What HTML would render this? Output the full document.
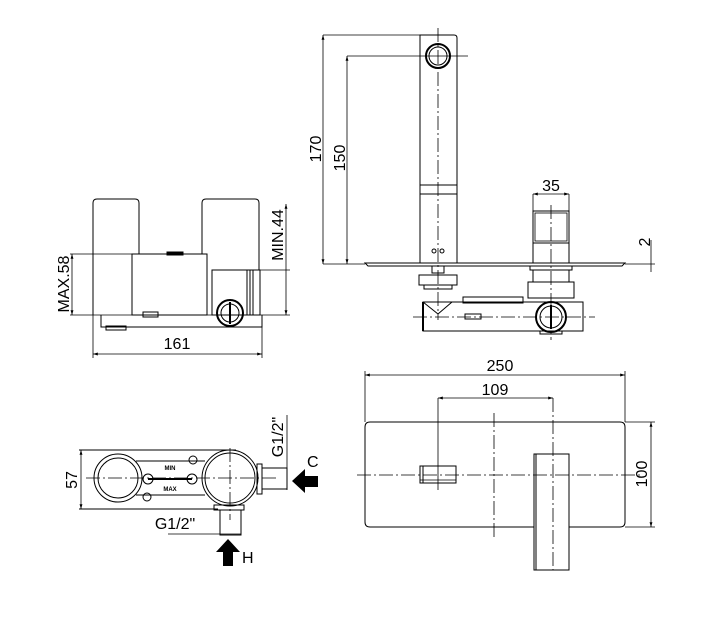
<!DOCTYPE html>
<html><head><meta charset="utf-8"><style>html,body{margin:0;padding:0;background:#fff}svg{display:block}</style></head>
<body>
<svg width="712" height="630" viewBox="0 0 712 630" xmlns="http://www.w3.org/2000/svg" font-family="Liberation Sans, sans-serif" fill="none" stroke="#000" stroke-width="1">
<defs>
<marker id="a" viewBox="0 0 10 10" refX="10" refY="5" markerWidth="6" markerHeight="6" orient="auto-start-reverse"><path d="M0,2 L10,5 L0,8" fill="#000" stroke="none"/></marker>
</defs>

<!-- ===== Top-left side view ===== -->
<path d="M93,315 V203 Q93,199 97,199 H135 Q139,199 139,203 V254"/>
<path d="M202,254 V203 Q202,199 206,199 H255 Q259,199 259,203 V270"/>
<rect x="132" y="254" width="75" height="61"/>
<rect x="167" y="252" width="16" height="3" fill="#000"/>
<rect x="143" y="312" width="15" height="5"/>
<rect x="212" y="270" width="48" height="45"/>
<line x1="247" y1="270" x2="247" y2="315"/><line x1="250" y1="270" x2="250" y2="315"/><line x1="253" y1="270" x2="253" y2="315"/>
<path d="M101,315 V327 H262 V315"/>
<rect x="106" y="326" width="20" height="4"/>
<circle cx="230" cy="313" r="13" stroke-width="2"/>
<circle cx="230" cy="313" r="9"/>
<line x1="230" y1="302" x2="230" y2="324" stroke-width="2"/>
<!-- dims -->
<line x1="70" y1="254" x2="132" y2="254" stroke-width="0.8"/>
<line x1="70" y1="315" x2="290" y2="315" stroke-width="0.8"/>
<line x1="72" y1="254" x2="72" y2="315" stroke-width="0.8" marker-start="url(#a)" marker-end="url(#a)"/>
<text x="0" y="0" transform="translate(69,284) rotate(-90)" font-size="16" fill="#000" stroke="none" text-anchor="middle">MAX.58</text>
<line x1="260" y1="270" x2="290" y2="270" stroke-width="0.8"/>
<line x1="286" y1="204" x2="286" y2="315" stroke-width="0.8" marker-start="url(#a)" marker-end="url(#a)"/>
<text x="0" y="0" transform="translate(283,235) rotate(-90)" font-size="16" fill="#000" stroke="none" text-anchor="middle">MIN.44</text>
<line x1="93" y1="315" x2="93" y2="358" stroke-width="0.8"/>
<line x1="262" y1="327" x2="262" y2="358" stroke-width="0.8"/>
<line x1="93" y1="354" x2="262" y2="354" stroke-width="0.8" marker-start="url(#a)" marker-end="url(#a)"/>
<text x="177" y="349" font-size="16" fill="#000" stroke="none" text-anchor="middle">161</text>

<!-- ===== Top-right elevation ===== -->
<path d="M420,263 V35 H454 Q457,35 457,38 V263"/>
<circle cx="438" cy="56" r="12" stroke-width="2"/>
<circle cx="438" cy="56" r="9"/>
<line x1="420" y1="185" x2="457" y2="185"/><line x1="420" y1="194" x2="457" y2="194"/>
<circle cx="434" cy="251" r="2"/><circle cx="442" cy="251" r="2"/>
<line x1="438" y1="28" x2="438" y2="320" stroke-width="0.8" stroke-dasharray="14,3,2,3"/>
<line x1="323" y1="35" x2="420" y2="35" stroke-width="0.8"/>
<line x1="323" y1="35" x2="323" y2="264" stroke-width="0.8" marker-start="url(#a)" marker-end="url(#a)"/>
<line x1="347" y1="56" x2="468" y2="56" stroke-width="0.8"/>
<line x1="347" y1="56" x2="347" y2="264" stroke-width="0.8" marker-start="url(#a)" marker-end="url(#a)"/>
<text x="0" y="0" transform="translate(321,149) rotate(-90)" font-size="16" fill="#000" stroke="none" text-anchor="middle">170</text>
<text x="0" y="0" transform="translate(345,158) rotate(-90)" font-size="16" fill="#000" stroke="none" text-anchor="middle">150</text>
<line x1="323" y1="264" x2="365" y2="264" stroke-width="0.8"/>
<path d="M365,263 H625 L622,266 H368 Z" stroke-width="1"/>
<line x1="625" y1="264" x2="655" y2="264" stroke-width="0.8"/>
<line x1="651" y1="240" x2="651" y2="272" stroke-width="0.8"/>
<text x="0" y="0" transform="translate(650,242) rotate(-90)" font-size="16" fill="#000" stroke="none" text-anchor="middle">2</text>
<!-- handle -->
<rect x="533" y="211" width="36" height="32"/>
<rect x="535" y="213" width="32" height="28" stroke-width="0.8"/>
<line x1="533" y1="243" x2="533" y2="263"/><line x1="569" y1="243" x2="569" y2="263"/>
<line x1="533" y1="194" x2="533" y2="211" stroke-width="0.8"/><line x1="569" y1="194" x2="569" y2="211" stroke-width="0.8"/>
<line x1="533" y1="194" x2="569" y2="194" stroke-width="0.8" marker-start="url(#a)" marker-end="url(#a)"/>
<text x="551" y="191" font-size="16" fill="#000" stroke="none" text-anchor="middle">35</text>
<line x1="551" y1="205" x2="551" y2="340" stroke-width="0.8" stroke-dasharray="14,3,2,3"/>
<rect x="530" y="266" width="42" height="4"/>
<rect x="533" y="270" width="36" height="12"/>
<rect x="528" y="282" width="46" height="16"/>
<!-- left stem -->
<rect x="432" y="266" width="12" height="7"/>
<rect x="419" y="275" width="38" height="10"/>
<rect x="424" y="285" width="28" height="4"/>
<path d="M423,302 L438,314 L452,302"/>
<rect x="463" y="297" width="60" height="6"/>
<path d="M423,302 H583 V331 H423 Z"/>
<line x1="423" y1="331" x2="423" y2="302" stroke-width="2"/>
<rect x="465" y="314" width="16" height="5"/>
<line x1="413" y1="317" x2="595" y2="317" stroke-width="0.8" stroke-dasharray="14,3,2,3"/>
<circle cx="551" cy="317" r="15" stroke-width="2"/>
<circle cx="551" cy="317" r="11"/>
<line x1="551" y1="305" x2="551" y2="329" stroke-width="2"/>
<rect x="540" y="331" width="22" height="3"/>

<!-- ===== Bottom-left plan ===== -->
<line x1="79" y1="450" x2="236" y2="450"/>
<line x1="79" y1="509" x2="218" y2="509"/>
<line x1="81" y1="450" x2="81" y2="509" stroke-width="0.8" marker-start="url(#a)" marker-end="url(#a)"/>
<text x="0" y="0" transform="translate(77,480) rotate(-90)" font-size="16" fill="#000" stroke="none" text-anchor="middle">57</text>
<path d="M136,461 H205 M136,495 H205" />
<circle cx="118" cy="478" r="24"/>
<circle cx="118" cy="478" r="20"/>
<circle cx="148" cy="479" r="5"/><circle cx="192" cy="479" r="5"/>
<line x1="148" y1="479" x2="192" y2="479" stroke-width="2"/>
<circle cx="193" cy="460" r="4"/><circle cx="147" cy="497" r="4"/>
<text x="170" y="470" font-size="6" font-weight="bold" fill="#000" stroke="none" text-anchor="middle">MIN</text>
<text x="170" y="491" font-size="6" font-weight="bold" fill="#000" stroke="none" text-anchor="middle">MAX</text>
<circle cx="230" cy="478" r="28"/>
<circle cx="230" cy="478" r="25"/>
<rect x="257" y="464" width="5" height="30"/>
<rect x="262" y="468" width="25" height="21"/>
<rect x="214" y="505" width="30" height="5"/>
<rect x="220" y="510" width="21" height="25"/>
<line x1="86" y1="478" x2="278" y2="478" stroke-width="0.8" stroke-dasharray="14,3,2,3"/>
<line x1="230" y1="448" x2="230" y2="520" stroke-width="0.8" stroke-dasharray="14,3,2,3"/>
<line x1="287" y1="415" x2="287" y2="490" stroke-width="0.8"/>
<text x="0" y="0" transform="translate(283,437) rotate(-90)" font-size="16" fill="#000" stroke="none" text-anchor="middle">G1/2"</text>
<line x1="168" y1="534" x2="241" y2="534" stroke-width="0.8"/>
<text x="175" y="529" font-size="16" fill="#000" stroke="none" text-anchor="middle">G1/2"</text>
<path d="M292,481 L305,469 V476 H318 V487 H305 V493 Z" fill="#000" stroke="none"/>
<text x="307" y="467" font-size="16" fill="#000" stroke="none">C</text>
<path d="M228,539 L240,552 H233 V566 H223 V552 H216 Z" fill="#000" stroke="none"/>
<text x="242" y="563" font-size="16" fill="#000" stroke="none">H</text>

<!-- ===== Bottom-right front ===== -->
<line x1="365" y1="371" x2="365" y2="422" stroke-width="0.8"/>
<line x1="625" y1="371" x2="625" y2="422" stroke-width="0.8"/>
<line x1="365" y1="375" x2="625" y2="375" stroke-width="0.8" marker-start="url(#a)" marker-end="url(#a)"/>
<text x="500" y="371" font-size="16" fill="#000" stroke="none" text-anchor="middle">250</text>
<line x1="438" y1="398" x2="553" y2="398" stroke-width="0.8" marker-start="url(#a)" marker-end="url(#a)"/>
<text x="495" y="395" font-size="16" fill="#000" stroke="none" text-anchor="middle">109</text>
<line x1="438" y1="398" x2="438" y2="490" stroke-width="0.8"/>
<line x1="553" y1="398" x2="553" y2="570" stroke-width="0.8" stroke-dasharray="14,3,2,3"/>
<path d="M534,527 H370 Q365,527 365,522 V427 Q365,422 370,422 H620 Q625,422 625,427 V522 Q625,527 620,527 H569"/>
<line x1="625" y1="422" x2="655" y2="422" stroke-width="0.8"/>
<line x1="625" y1="527" x2="655" y2="527" stroke-width="0.8"/>
<line x1="651" y1="422" x2="651" y2="527" stroke-width="0.8" marker-start="url(#a)" marker-end="url(#a)"/>
<text x="0" y="0" transform="translate(647,474) rotate(-90)" font-size="16" fill="#000" stroke="none" text-anchor="middle">100</text>
<line x1="357" y1="475" x2="640" y2="475" stroke-width="0.8" stroke-dasharray="14,3,2,3"/>
<line x1="494" y1="413" x2="494" y2="538" stroke-width="0.8" stroke-dasharray="14,3,2,3"/>
<rect x="420" y="466" width="36" height="17"/>
<line x1="423" y1="466" x2="423" y2="483"/>
<line x1="420" y1="480" x2="456" y2="480" stroke-width="0.8"/>
<rect x="534" y="454" width="35" height="116"/>
<line x1="536" y1="454" x2="536" y2="570"/>
</svg>
</body></html>
